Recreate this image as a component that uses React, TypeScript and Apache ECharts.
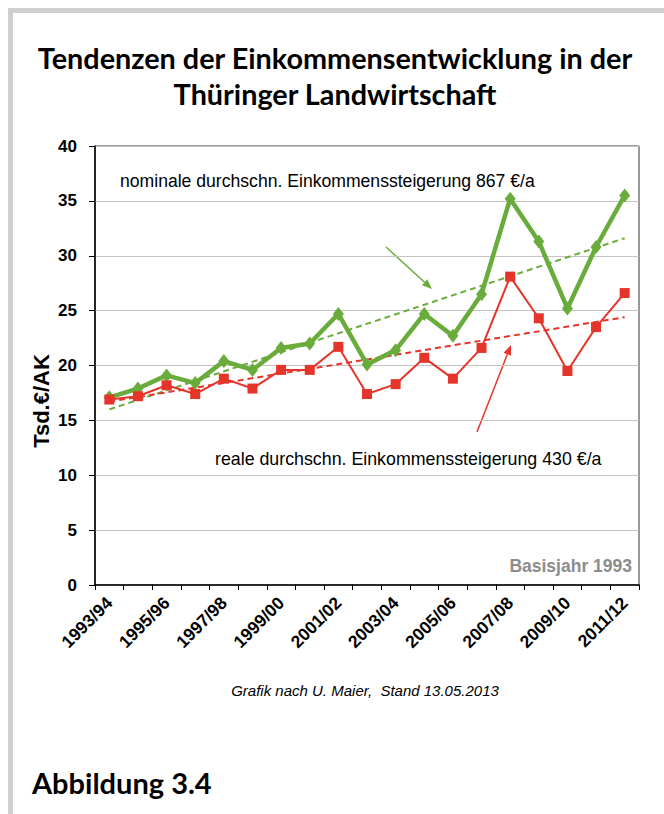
import React, { useEffect, useRef } from "react";
import * as echarts from "echarts";

const categories = [
  "1993/94", "1994/95", "1995/96", "1996/97", "1997/98", "1998/99", "1999/00",
  "2000/01", "2001/02", "2002/03", "2003/04", "2004/05", "2005/06", "2006/07",
  "2007/08", "2008/09", "2009/10", "2010/11", "2011/12",
];
const nominal = [17.1, 17.9, 19.1, 18.4, 20.4, 19.6, 21.6, 22.0, 24.7, 20.1, 21.4, 24.7, 22.7, 26.5, 35.2, 31.3, 25.2, 30.8, 35.5];
const real = [16.9, 17.2, 18.2, 17.4, 18.8, 17.9, 19.6, 19.6, 21.7, 17.4, 18.3, 20.7, 18.8, 21.6, 28.1, 24.3, 19.5, 23.5, 26.6];
const nominalTrend = [16.0, 31.6];
const realTrend = [16.7, 24.4];
const yTicks = [0, 40, 5];

const GREEN = "#6aac3c";
const RED = "#e5352b";

function arrow(x1: number, y1: number, x2: number, y2: number, color: string) {
  const a = Math.atan2(y2 - y1, x2 - x1);
  const L = 10, W = 4;
  const bx = x2 - L * Math.cos(a), by = y2 - L * Math.sin(a);
  const px = -Math.sin(a) * W, py = Math.cos(a) * W;
  return [
    { type: "line", shape: { x1, y1, x2: bx, y2: by }, style: { stroke: color, lineWidth: 1.5 } },
    { type: "polygon", shape: { points: [[x2, y2], [bx + px, by + py], [bx - px, by - py]] }, style: { fill: color } },
  ];
}

export default function App() {
  const ref = useRef<HTMLDivElement>(null);
  useEffect(() => {
    if (!ref.current) return;
    const chart = echarts.init(ref.current, null, { renderer: "svg" });
    const last = categories.length - 1;
    chart.setOption({
      animation: false,
      backgroundColor: "#fff",
      grid: { left: 95, top: 146, right: 25, bottom: 229, show: true, borderColor: "#333", borderWidth: 1, containLabel: false },
      xAxis: {
        type: "category",
        data: categories,
        boundaryGap: true,
        axisLine: { lineStyle: { color: "#000", width: 1.5 } },
        axisTick: { show: true, length: 5, lineStyle: { color: "#000" }, interval: 0 },
        axisLabel: { interval: 1, rotate: 45, fontFamily: "Liberation Sans", fontWeight: "bold", fontSize: 17.5, color: "#000", margin: 15 },
        splitLine: { show: false },
      },
      yAxis: {
        type: "value",
        min: yTicks[0], max: yTicks[1], interval: yTicks[2],
        axisLine: { show: true, lineStyle: { color: "#000", width: 1.5 } },
        axisTick: { show: true, length: 6, lineStyle: { color: "#000" } },
        axisLabel: { fontFamily: "Liberation Sans", fontWeight: "bold", fontSize: 17, color: "#000", margin: 18 },
        splitLine: { lineStyle: { color: "#c4c4c4", width: 1 } },
      },
      series: [
        {
          type: "line", data: nominal, symbol: "diamond", symbolSize: [11, 14],
          lineStyle: { color: GREEN, width: 4.5 }, itemStyle: { color: GREEN }, z: 3,
        },
        {
          type: "line", data: real, symbol: "rect", symbolSize: 10,
          lineStyle: { color: RED, width: 2 }, itemStyle: { color: RED }, z: 4,
        },
        {
          type: "line", data: [[categories[0], nominalTrend[0]], [categories[last], nominalTrend[1]]], symbol: "none",
          lineStyle: { color: GREEN, width: 2, type: [6, 4] }, z: 2,
        },
        {
          type: "line", data: [[categories[0], realTrend[0]], [categories[last], realTrend[1]]], symbol: "none",
          lineStyle: { color: RED, width: 2, type: [6, 4] }, z: 2,
        },
      ],
      graphic: [
        { type: "rect", shape: { x: 8, y: 8, width: 656, height: 5 }, style: { fill: "#cfcfcf" } },
        { type: "rect", shape: { x: 8, y: 8, width: 5, height: 806 }, style: { fill: "#cfcfcf" } },
        { type: "text", x: 335, y: 58, style: { text: "Tendenzen der Einkommensentwicklung in der", font: "bold 28.8px Lato", fill: "#000", textAlign: "center", textVerticalAlign: "middle" } },
        { type: "text", x: 335, y: 94, style: { text: "Thüringer Landwirtschaft", font: "bold 28.8px Lato", fill: "#000", textAlign: "center", textVerticalAlign: "middle" } },
        { type: "text", x: 41, y: 401, rotation: Math.PI / 2, style: { text: "Tsd.€/AK", font: "bold 22px 'Liberation Sans'", fill: "#000", textAlign: "center", textVerticalAlign: "middle" } },
        { type: "text", x: 120, y: 181, style: { text: "nominale durchschn. Einkommenssteigerung 867 €/a", font: "17.6px 'Liberation Sans'", fill: "#000", textAlign: "left", textVerticalAlign: "middle" } },
        { type: "text", x: 215, y: 459, style: { text: "reale durchschn. Einkommenssteigerung 430 €/a", font: "17.8px 'Liberation Sans'", fill: "#000", textAlign: "left", textVerticalAlign: "middle" } },
        { type: "text", x: 632, y: 566, style: { text: "Basisjahr 1993", font: "bold 17.5px 'Liberation Sans'", fill: "#8c8c8c", textAlign: "right", textVerticalAlign: "middle" } },
        { type: "text", x: 365, y: 690, style: { text: "Grafik nach U. Maier,  Stand 13.05.2013", font: "italic 15px 'Liberation Sans'", fill: "#000", textAlign: "center", textVerticalAlign: "middle" } },
        { type: "text", x: 32, y: 782, style: { text: "Abbildung 3.4", font: "bold 29px Lato", fill: "#000", textAlign: "left", textVerticalAlign: "middle" } },
        ...arrow(386, 247, 432, 289, GREEN),
        ...arrow(477, 432, 511, 345, RED),
      ],
    });
    return () => chart.dispose();
  }, []);
  return <div ref={ref} style={{ position: "absolute", left: 0, top: 0, width: 664, height: 814 }} />;
}
